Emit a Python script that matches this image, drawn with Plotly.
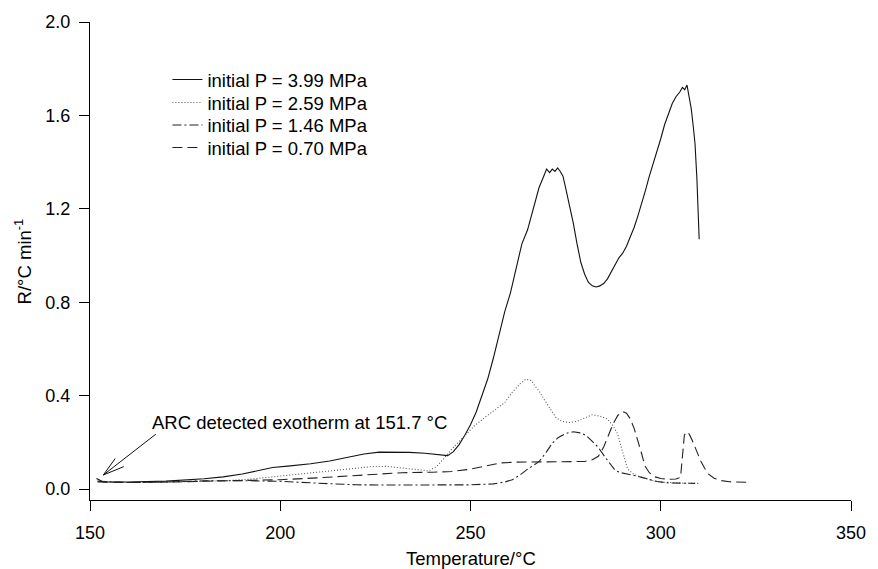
import plotly.graph_objects as go

# ---- data ----
t_399 = [151.7, 152.5, 153.5, 160, 170, 180, 185, 190, 195, 198, 202, 208, 213, 218, 222, 226, 230, 234,
         238, 241, 244, 245.5, 247, 248.5, 250, 251.5, 253, 254.5, 256, 257.5, 259, 260.5, 262, 263.5,
         265, 266, 267, 268, 269, 270, 270.8, 271.5, 272.2, 272.9, 273.6, 274.3, 275, 276, 277, 278,
         279, 280, 281, 282, 283, 284, 285, 286, 287, 288, 289, 290, 291, 292, 293, 294, 295, 296, 297,
         298, 299, 300, 301, 302, 303, 304, 305, 305.7, 306.3, 306.9, 307.5, 308, 308.5, 309, 309.5,
         309.8, 310.1]
r_399 = [0.045, 0.038, 0.030, 0.030, 0.034, 0.044, 0.052, 0.064, 0.080, 0.092, 0.098, 0.108, 0.120, 0.135,
         0.150, 0.158, 0.158, 0.157, 0.153, 0.148, 0.143, 0.160, 0.190, 0.230, 0.275, 0.33, 0.40, 0.47,
         0.56, 0.66, 0.76, 0.84, 0.94, 1.05, 1.11, 1.17, 1.23, 1.29, 1.33, 1.37, 1.355, 1.37, 1.36, 1.375,
         1.36, 1.34, 1.29, 1.22, 1.14, 1.05, 0.97, 0.92, 0.885, 0.87, 0.865, 0.87, 0.88, 0.90, 0.93, 0.96,
         0.99, 1.01, 1.04, 1.08, 1.12, 1.17, 1.22, 1.28, 1.34, 1.39, 1.44, 1.50, 1.56, 1.61, 1.65, 1.68,
         1.70, 1.72, 1.71, 1.73, 1.68, 1.63, 1.56, 1.48, 1.33, 1.21, 1.07]

t_259 = [152, 155, 165, 175, 185, 192, 198, 205, 212, 218, 224, 228, 232, 236, 239, 241, 243, 245, 248,
         251, 254, 257, 259, 261, 263, 264.5, 266, 267, 268, 269.5, 271, 272.5, 274, 276, 278, 280, 282,
         284, 286, 287.5, 288.7, 289.6, 290.4, 291.3, 293, 295, 298, 300, 305, 310]
r_259 = [0.035, 0.030, 0.028, 0.030, 0.035, 0.042, 0.052, 0.065, 0.078, 0.088, 0.096, 0.097, 0.090, 0.082,
         0.078, 0.095, 0.13, 0.17, 0.22, 0.27, 0.31, 0.345, 0.37, 0.415, 0.45, 0.47, 0.465, 0.44, 0.42,
         0.38, 0.34, 0.305, 0.29, 0.285, 0.29, 0.305, 0.318, 0.312, 0.30, 0.27, 0.235, 0.18, 0.135,
         0.085, 0.062, 0.05, 0.036, 0.03, 0.026, 0.024]

t_146 = [152, 160, 170, 180, 190, 200, 210, 220, 230, 240, 250, 256, 259, 261, 263, 265, 268, 270, 271.5,
         273, 275, 277, 279, 280.5, 282, 283.5, 285, 286.5, 288, 289.5, 291, 293, 295, 297, 299, 302, 306,
         309]
r_146 = [0.033, 0.028, 0.030, 0.035, 0.036, 0.033, 0.025, 0.018, 0.017, 0.017, 0.018, 0.022, 0.030, 0.040,
         0.060, 0.085, 0.117, 0.16, 0.196, 0.22, 0.238, 0.245, 0.24, 0.228, 0.205, 0.18, 0.145, 0.11,
         0.08, 0.07, 0.066, 0.058, 0.05, 0.04, 0.032, 0.026, 0.024, 0.024]

t_070 = [152, 160, 170, 180, 190, 200, 210, 218, 225, 232, 240, 245, 250, 254, 258, 262, 268, 274, 280,
         282, 283.6, 285, 286.3, 287.5, 288.7, 290, 291, 292, 293, 294, 295, 295.8, 297, 298.5, 300, 302,
         304, 305.2, 305.7, 306.2, 306.8, 307.5, 308.5, 309.5, 310.5, 311.5, 312.5, 314, 316, 318, 323]
r_070 = [0.030, 0.028, 0.030, 0.034, 0.036, 0.040, 0.048, 0.056, 0.066, 0.070, 0.072, 0.075, 0.085, 0.10,
         0.112, 0.115, 0.117, 0.117, 0.118, 0.125, 0.14, 0.18, 0.23, 0.28, 0.315, 0.332, 0.325, 0.30,
         0.26, 0.21, 0.15, 0.10, 0.07, 0.052, 0.045, 0.042, 0.043, 0.05, 0.15, 0.23, 0.245, 0.235, 0.20,
         0.16, 0.12, 0.09, 0.065, 0.046, 0.036, 0.031, 0.029]

series_names = ["initial P = 3.99 MPa", "initial P = 2.59 MPa",
                "initial P = 1.46 MPa", "initial P = 0.70 MPa"]
x_ticks = [150, 200, 250, 300, 350]
y_ticks = [0.0, 0.4, 0.8, 1.2, 1.6, 2.0]
note_text = "ARC detected exotherm at 151.7 °C"
onset_T, onset_R = 153.5, 0.06

FONT = "Arial, Liberation Sans, Helvetica, sans-serif"
TXT = 18.5

# plot-area geometry in pixels (used only for placing legends / titles)
PL, PR, PT, PB = 89.5, 861, 22, 500
W, H = 878, 569

def px_to_paper_y(py):
    return (PB - py) / (PB - PT)

def px_to_paper_x(px):
    return (px - PL) / (PR - PL)

fig = go.Figure()
styles = [
    dict(color="#111111", width=1.1, dash="solid"),
    dict(color="#555555", width=1.1, dash="1px,2px"),
    dict(color="#222222", width=1.1, dash="9px,3px,2px,3px"),
    dict(color="#222222", width=1.1, dash="10px,5px"),
]
legend_ids = ["legend", "legend2", "legend3", "legend4"]
legend_rows_px = [80, 103, 125.5, 148]
for xs, ys, name, st, lg in zip([t_399, t_259, t_146, t_070], [r_399, r_259, r_146, r_070],
                                series_names, styles, legend_ids):
    fig.add_trace(go.Scatter(x=xs, y=ys, mode="lines", name=name, line=st, legend=lg,
                             showlegend=True))

axis_common = dict(
    showline=True, linecolor="black", linewidth=1, ticks="outside", ticklen=10,
    tickcolor="black", tickwidth=1, showgrid=False, zeroline=False,
    tickfont=dict(family=FONT, size=18, color="black"), mirror=False,
)
fig.update_xaxes(range=[150, 350], tickvals=x_ticks, ticktext=[str(v) for v in x_ticks],
                 ticklabelstandoff=6, **axis_common)
fig.update_yaxes(range=[-0.047, 2.0], tickvals=y_ticks, ticktext=[f"{v:.1f}" for v in y_ticks],
                 ticklabelstandoff=5, **axis_common)

annotations = [
    dict(text="Temperature/°C", xref="paper", yref="paper", x=0.5, y=px_to_paper_y(558),
         xanchor="center", yanchor="middle", showarrow=False,
         font=dict(family=FONT, size=TXT, color="black")),
    dict(text="R/°C min<sup>-1</sup>", xref="paper", yref="paper", x=px_to_paper_x(22), y=0.5,
         xanchor="center", yanchor="middle", textangle=-90, showarrow=False,
         font=dict(family=FONT, size=TXT, color="black")),
    dict(text=note_text, x=165.8, y=0.287, xanchor="left", yanchor="middle", showarrow=False,
         font=dict(family=FONT, size=TXT, color="black")),
]
for ax, ay in [(54, -42), (13, -18), (22, -9)]:
    annotations.append(dict(text="", x=onset_T, y=onset_R, ax=ax, ay=ay, showarrow=True,
                            arrowhead=0, arrowwidth=1, arrowcolor="#111111", standoff=0))

legend_layout = {}
for lg, row in zip(legend_ids, legend_rows_px):
    legend_layout[lg] = dict(x=px_to_paper_x(168), y=px_to_paper_y(row), xanchor="left",
                             yanchor="middle", bgcolor="rgba(0,0,0,0)", borderwidth=0,
                             font=dict(family=FONT, size=TXT, color="black"))

fig.update_layout(
    width=W, height=H,
    margin=dict(l=PL, r=W - PR, t=PT, b=H - PB),
    paper_bgcolor="white", plot_bgcolor="white",
    annotations=annotations,
    **legend_layout,
)

fig.write_html("out.html")
